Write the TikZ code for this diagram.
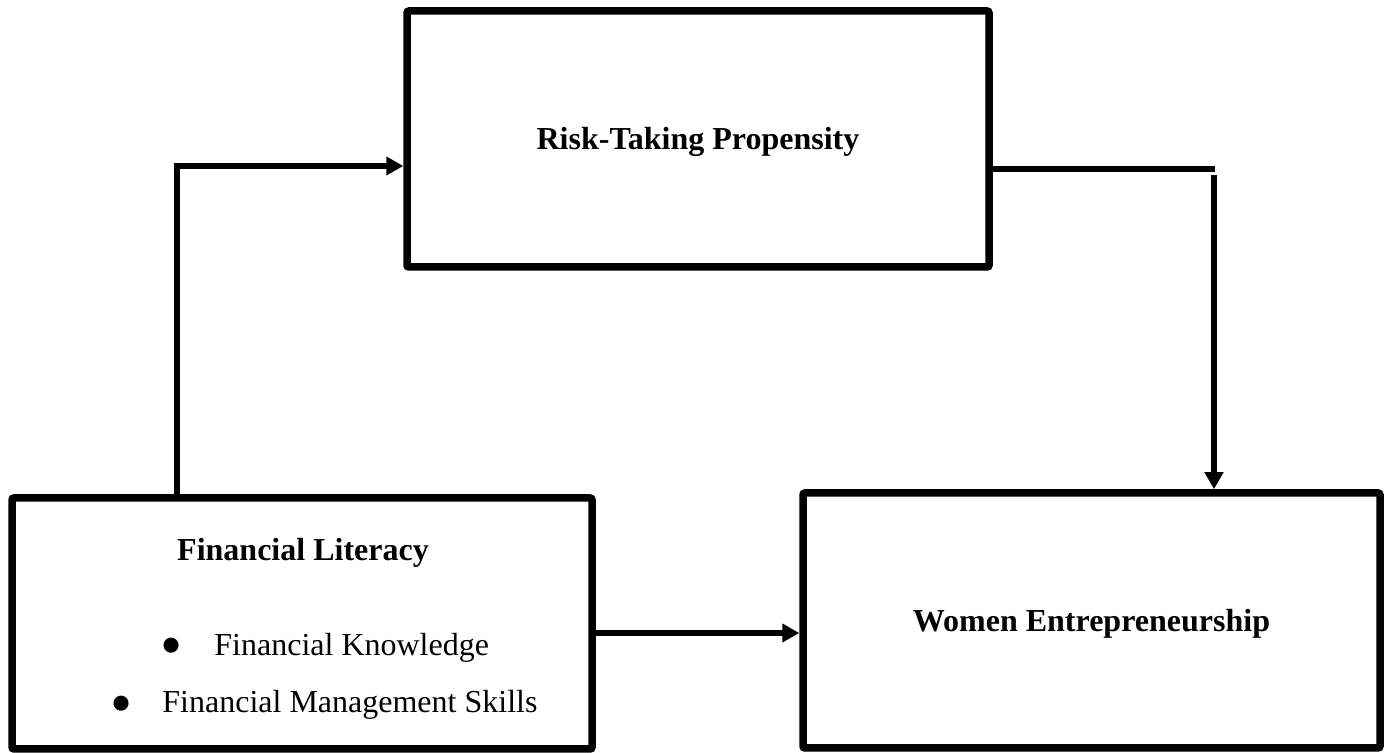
\documentclass[tikz,border=0pt]{standalone}
\usepackage{fontspec}
\setmainfont{Liberation Serif}
\usetikzlibrary{arrows.meta}

\tikzset{
  varbox/.style={draw, line width=3.75pt, rounded corners=1pt, inner sep=0pt,
    text height=11pt, text depth=0pt},
  bigdot/.style={anchor=base, font=\fontsize{31.5}{32}\selectfont},
  conn/.style={line width=3pt, -{Triangle[length=8.5pt,width=9pt]}},
}

\begin{document}
\begin{tikzpicture}[x=0.5pt,y=-0.5pt,font=\fontsize{16}{19}\selectfont]
        \useasboundingbox (0,0) rectangle (1389,753);

        % mediator
        \node[varbox, minimum width=291pt, minimum height=128pt] (rtp) at (698,139)
            {\bfseries Risk-Taking Propensity};

        % independent variable
        \node[varbox, minimum width=290pt, minimum height=125.5pt] (fl) at (302,623.5) {};
        \node[anchor=base] (flhead) at (303,561) {\bfseries Financial Literacy};
        \node[bigdot] (bulk) at (172,667) {\textbullet};
        \node[anchor=base west, inner sep=0pt] (fk) at (214,656) {Financial Knowledge};
        \node[bigdot] (bulm) at (122,725) {\textbullet};
        \node[anchor=base west, inner sep=0pt] (fms) at (162,713) {Financial Management Skills};

        % dependent variable
        \node[varbox, minimum width=288.5pt, minimum height=127.5pt] (we) at (1091.5,620.5)
            {\bfseries Women Entrepreneurship};

        % paths
        \coordinate (turn) at (1214,169);
        \draw[conn] (fl.north -| 177,0) |- (rtp.west |- 0,166);
        \draw[line width=3pt] (rtp.east |- turn) -- ([xshift=0.5pt]turn);
        \draw[conn] ([yshift=-3pt]turn) -- (we.north -| turn);
        \draw[conn] (fl.east |- 0,633) -- (we.west |- 0,633);
    \end{tikzpicture}
\end{document}
